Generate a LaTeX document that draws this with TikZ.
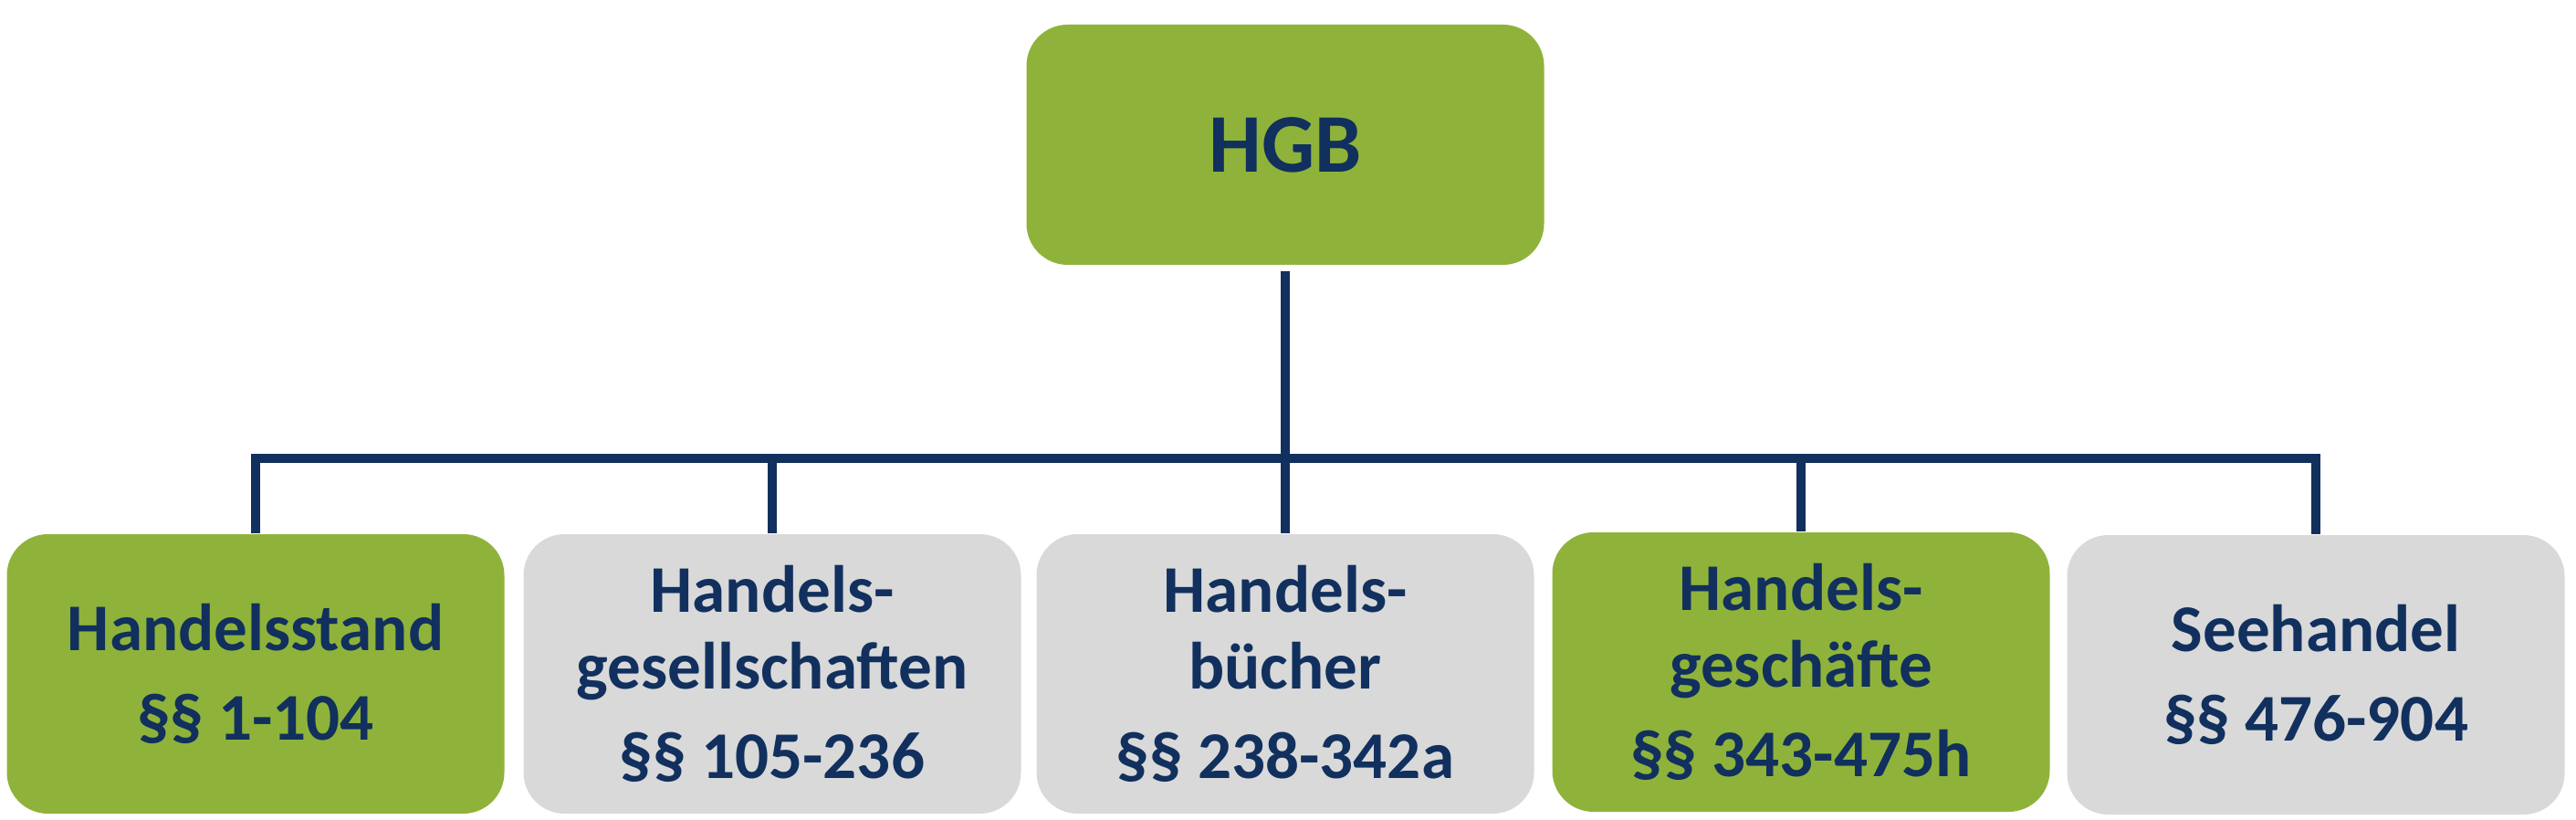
\documentclass[tikz,border=0pt]{standalone}
\usepackage{fontspec}
\setmainfont{Carlito}
\definecolor{hgbgreen}{RGB}{143,179,58}
\definecolor{hgbgray}{RGB}{217,217,217}
\definecolor{hgbnavy}{RGB}{17,48,94}
\tikzset{
  part/.style={rounded corners=0.45cm, minimum width=5.45cm, minimum height=3.06cm,
    align=center, text=hgbnavy, inner sep=0pt,
    font=\bfseries\fontsize{20.8}{24}\selectfont},
  greenpart/.style={part, fill=hgbgreen},
  graypart/.style={part, fill=hgbgray},
}
\begin{document}
\begin{tikzpicture}
    \useasboundingbox (0,0) rectangle (28.22,-8.98);
    %% Draw the nodes
    \node[greenpart, minimum width=5.67cm, minimum height=2.63cm,
      font=\bfseries\fontsize{26}{30}\selectfont] (hgb) at (14.08,-1.585) {HGB};
    \node[greenpart] (stand) at (2.80,-7.38) {Handelsstand\\[4pt]§§ 1-104};
    \node[graypart] (ges) at (8.46,-7.38) {Handels-\\gesellschaften\\[4pt]§§ 105-236};
    \node[graypart] (buch) at (14.08,-7.38) {Handels-\\bücher\\[4pt]§§ 238-342a};
    \node[greenpart] (gesch) at (19.73,-7.36) {Handels-\\geschäfte\\[4pt]§§ 343-475h};
    \node[graypart] (see) at (25.37,-7.39) {Seehandel\\[4pt]§§ 476-904};
    %% Draw the bar
    \coordinate (bar) at (14.08,-5.02);
    %% Draw the edges
    \begin{scope}[every path/.style={draw=hgbnavy, line width=2.7pt}]
      \draw[shorten <=0.06cm] (hgb.south) -- (buch.north);
      \draw (stand.north) |- (bar) -| (see.north);
      \draw (ges.north) -- (ges.north |- bar);
      \draw (gesch.north) -- (gesch.north |- bar);
    \end{scope}
  \end{tikzpicture}
\end{document}
